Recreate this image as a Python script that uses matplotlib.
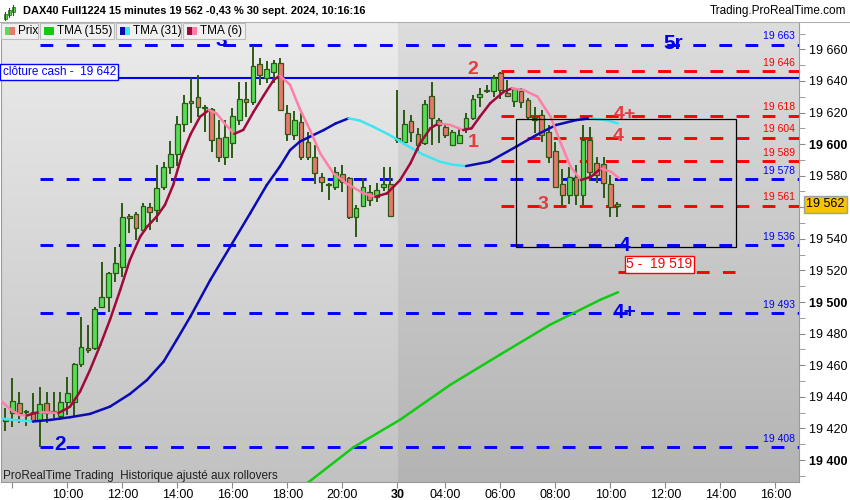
import numpy as np
import matplotlib
matplotlib.use('Agg')
import matplotlib.pyplot as plt
import matplotlib.transforms as mtransforms
from matplotlib.collections import LineCollection
from matplotlib.patches import Rectangle

plt.rcParams['font.family'] = ['Liberation Sans', 'DejaVu Sans']
plt.rcParams['lines.scale_dashes'] = False

# 15 minute bars, index 0 = 08:00 on the 29th, day 30 starts at 56
bar_idx = np.arange(-1, 89)
opens = [19425.0, 19429.6, 19436.4, 19430.8, 19430.3, 19425.4, 19436.4, 19430.0, 19427.9, 19436.6,
         19437.0, 19460.8, 19470.7, 19470.7, 19496.7, 19503.4, 19518.2, 19522.4, 19554.5, 19555.5,
         19545.6, 19560.4, 19558.3, 19572.6, 19585.3, 19593.5, 19612.5, 19626.9, 19629.6, 19623.4,
         19622.0, 19603.7, 19591.6, 19600.5, 19615.3, 19628.3, 19626.9, 19650.7, 19641.6, 19645.9,
         19651.1, 19619.9, 19605.8, 19614.2, 19601.5, 19591.6, 19579.4, 19574.1, 19573.0, 19581.0,
         19578.3, 19554.0, 19560.8, 19569.9, 19566.3, 19572.6, 19574.5, 19602.5, 19601.5, 19614.6,
         19606.2, 19600.5, 19630.4, 19615.2, 19611.0, 19599.4, 19600.5, 19610.0, 19616.3, 19629.6,
         19633.5, 19633.8, 19644.8, 19632.5, 19627.5, 19633.8, 19627.9, 19615.2, 19618.4, 19607.8,
         19595.8, 19574.7, 19567.8, 19579.4, 19567.8, 19602.6, 19587.8, 19587.4, 19574.7, 19561.0]
highs = [19432.8, 19451.8, 19443.3, 19431.7, 19442.3, 19446.5, 19443.3, 19443.3, 19443.3, 19452.4,
         19461.2, 19490.4, 19485.5, 19496.7, 19525.2, 19519.2, 19534.6, 19562.5, 19555.8, 19557.2,
         19562.9, 19562.5, 19586.8, 19588.5, 19602.2, 19617.8, 19631.1, 19641.6, 19643.8, 19624.8,
         19622.7, 19615.3, 19615.3, 19622.7, 19639.1, 19639.1, 19662.1, 19654.3, 19652.8, 19653.2,
         19654.3, 19624.8, 19621.2, 19619.4, 19607.8, 19599.4, 19581.5, 19575.1, 19585.7, 19586.7,
         19578.9, 19561.4, 19578.3, 19574.1, 19575.1, 19585.3, 19585.3, 19634.2, 19621.6, 19618.4,
         19610.0, 19627.9, 19639.5, 19616.3, 19612.1, 19608.9, 19610.0, 19619.4, 19631.0, 19635.3,
         19637.4, 19643.7, 19645.8, 19640.5, 19635.3, 19635.3, 19628.9, 19623.7, 19621.6, 19612.1,
         19601.5, 19584.0, 19585.7, 19587.0, 19612.1, 19611.0, 19592.0, 19592.0, 19580.4, 19563.5]
lows = [19418.7, 19421.2, 19423.3, 19421.5, 19423.3, 19408.0, 19423.3, 19426.4, 19425.4, 19428.5,
        19428.0, 19459.1, 19467.6, 19469.7, 19496.7, 19494.0, 19513.0, 19516.1, 19543.5, 19539.3,
        19545.0, 19545.6, 19550.9, 19571.0, 19581.1, 19586.1, 19607.9, 19613.2, 19617.0, 19607.9,
        19595.2, 19588.9, 19586.8, 19591.0, 19612.1, 19617.4, 19624.8, 19637.4, 19638.9, 19638.5,
        19621.0, 19602.2, 19602.6, 19589.9, 19589.9, 19574.7, 19569.9, 19564.6, 19570.9, 19569.9,
        19552.4, 19541.4, 19560.4, 19560.8, 19563.5, 19570.5, 19554.0, 19600.5, 19599.4, 19601.5,
        19595.2, 19599.4, 19599.4, 19600.5, 19603.6, 19598.8, 19600.0, 19606.8, 19615.2, 19623.7,
        19632.1, 19630.0, 19628.3, 19630.0, 19623.7, 19622.6, 19615.2, 19607.2, 19601.5, 19587.8,
        19572.0, 19561.4, 19562.0, 19561.4, 19561.4, 19576.8, 19575.1, 19566.0, 19554.0, 19553.6]
closes = [19426.0, 19437.6, 19429.6, 19430.3, 19425.4, 19435.5, 19429.6, 19431.0, 19436.6, 19442.2,
          19460.8, 19471.4, 19469.7, 19495.4, 19503.4, 19518.2, 19524.5, 19554.1, 19553.5, 19546.7,
          19561.0, 19557.2, 19572.4, 19585.3, 19593.5, 19612.5, 19626.2, 19626.3, 19623.3, 19622.8,
          19602.6, 19591.6, 19604.3, 19617.8, 19628.3, 19626.9, 19649.4, 19643.7, 19647.3, 19651.1,
          19621.6, 19606.2, 19615.3, 19592.0, 19591.6, 19581.5, 19576.2, 19574.0, 19582.5, 19576.2,
          19553.6, 19559.3, 19573.0, 19564.6, 19570.9, 19574.7, 19554.5, 19603.6, 19612.5, 19607.8,
          19599.4, 19625.1, 19616.3, 19612.1, 19605.7, 19607.8, 19605.7, 19616.3, 19628.3, 19631.7,
          19633.8, 19641.6, 19634.2, 19630.4, 19634.6, 19626.8, 19617.3, 19616.3, 19605.7, 19592.0,
          19573.0, 19567.8, 19579.4, 19567.8, 19602.6, 19582.5, 19580.4, 19575.4, 19560.2, 19562.0]

# moving averages (bar index, value)
tma6_t = [-1.8, -0.3, 1.0, 2.1, 3.1, 4.0, 5.5, 6.7, 7.4, 8.4, 9.85, 11.3, 12.8, 14.2, 15.7, 17.1,
          18.6, 19.6, 21.0, 22.2, 23.4, 24.6, 25.9, 27.3, 28.6, 29.7, 31.2, 32.3, 33.6, 35.1, 36.6,
          38.0, 38.9, 40.4, 41.8, 43.3, 44.8, 46.7, 48.6, 51.1, 52.8, 54.5, 56.4, 57.9, 59.3, 60.8,
          62.0, 63.7, 65.6, 66.8, 68.0, 69.5, 71.5, 72.7, 74.4, 76.4, 78.3, 79.8, 81.2, 82.7, 84.2,
          85.6, 87.1, 88.3]
tma6_v = [19438.1, 19432.2, 19428.6, 19428.1, 19429.6, 19430.3, 19430.0, 19429.8, 19431.3, 19433.8,
          19443.3, 19457.0, 19472.8, 19488.7, 19507.7, 19526.6, 19541.4, 19547.7, 19554.1, 19561.5,
          19574.1, 19592.0, 19606.0, 19617.3, 19621.6, 19619.4, 19611.5, 19606.5, 19609.0, 19620.5,
          19631.0, 19640.5, 19643.5, 19637.5, 19622.5, 19608.9, 19594.1, 19581.5, 19575.1, 19568.8,
          19566.7, 19568.8, 19577.2, 19587.8, 19600.5, 19610.0, 19613.1, 19612.1, 19608.9, 19610.0,
          19617.3, 19625.8, 19633.2, 19635.3, 19634.2, 19630.0, 19617.3, 19600.5, 19585.7, 19577.2,
          19579.4, 19584.6, 19582.5, 19578.3]
tma31_t = [-1.8, 0.0, 3.0, 5.5, 8.4, 11.3, 14.2, 17.1, 19.6, 22.0, 23.9, 25.9, 28.8, 31.7, 34.6,
           37.0, 38.9, 40.4, 41.8, 43.3, 45.3, 47.0, 48.9, 50.5, 52.5, 54.9, 57.3, 59.7, 62.2, 64.0,
           66.0, 69.4, 73.3, 76.2, 79.1, 82.0, 84.0, 86.4, 88.1]
tma31_v = [19426.5, 19425.4, 19424.4, 19425.4, 19427.1, 19429.2, 19433.8, 19441.8, 19450.7, 19462.3,
           19476.0, 19490.8, 19514.0, 19535.1, 19556.2, 19574.0, 19585.7, 19596.2, 19601.5, 19604.7,
           19608.9, 19613.0, 19616.3, 19615.0, 19611.0, 19605.7, 19599.4, 19593.5, 19588.9, 19587.0,
           19586.1, 19588.9, 19598.4, 19605.7, 19612.1, 19615.2, 19616.3, 19615.2, 19613.1]
tma155_t = [42.5, 49.6, 56.4, 63.7, 70.9, 78.2, 85.5, 88.1]
tma155_v = [19384.0, 19408.0, 19425.5, 19447.6, 19466.6, 19485.6, 19501.4, 19506.2]

blue_levels = [19663, 19578, 19536, 19493, 19408]
red_levels = [19646, 19618, 19604, 19589, 19561]
cash_close = 19642
target5 = 19519
last_price = 19562

yticks = list(range(19400, 19661, 20))
xtick_pos = [0, 8, 16, 24, 32, 40, 48, 56, 63, 71, 79, 87, 95, 103, 111]
xtick_lab = ['', '10:00', '12:00', '14:00', '16:00', '18:00', '20:00', '30',
             '04:00', '06:00', '08:00', '10:00', '12:00', '14:00', '16:00']


def fmt(v):
    return '%d %03d' % (v // 1000, v % 1000)


def slope_line(ax, t, v, up, down, lw):
    pts = np.column_stack([t, v])
    segs = np.stack([pts[:-1], pts[1:]], axis=1)
    cols = [up if b >= a else down for a, b in zip(v[:-1], v[1:])]
    ax.add_collection(LineCollection(segs, colors=cols, linewidths=lw,
                                     capstyle='round', joinstyle='round', zorder=4))


fig = plt.figure(figsize=(8.5, 5), dpi=100, facecolor='white')
ax = fig.add_axes([1 / 850, 18 / 500, 798 / 850, 460 / 500])
xmin, xmax = -1.644, 114.43
ymin, ymax = 19386.1, 19677.3
xsplit = 56.15

# background, lighter for the previous day
g = np.linspace(0, 1, 200)[:, None, None]
left_bg = 0.925 + (0.76 - 0.925) * g * np.ones((1, 1, 3))
right_bg = 0.865 + (0.705 - 0.865) * g * np.ones((1, 1, 3))
ax.imshow(left_bg, extent=(xmin, xsplit, ymin, ymax), aspect='auto', zorder=0)
ax.imshow(right_bg, extent=(xsplit, xmax, ymin, ymax), aspect='auto', zorder=0)

# level lines
blend = mtransforms.blended_transform_factory(ax.transAxes, ax.transData)
dash = (9.2, 9.6)
for lv in blue_levels:
    ax.plot([4.0, xmax], [lv, lv], color='#0000ff', lw=2.1, dashes=dash, zorder=2)
    ax.annotate(fmt(lv), xy=(0.995, lv), xycoords=blend, xytext=(0, 6), textcoords='offset points',
                ha='right', va='center', color='#0000ff', fontsize=7.5, zorder=6)
for lv in red_levels:
    ax.plot([71.1, xmax], [lv, lv], color='#ff0000', lw=2.1, dashes=dash, zorder=2)
    ax.annotate(fmt(lv), xy=(0.995, lv), xycoords=blend, xytext=(0, 6), textcoords='offset points',
                ha='right', va='center', color='#ff0000', fontsize=7.5, zorder=6)
ax.plot([88.1, 105.1], [target5, target5], color='#ff0000', lw=2.1, dashes=dash, zorder=2)
ax.axhline(cash_close, color='#0000ff', lw=1.5, zorder=2)

# candles
edge = '#2b5a14'
ax.vlines(bar_idx, lows, highs, color=edge, lw=1.4, zorder=3)
o = np.array(opens)
c = np.array(closes)
body_lo = np.minimum(o, c)
body_h = np.maximum(np.abs(c - o), 0.8)
body_col = ['#55dd55' if cc >= oo else '#e8786c' for oo, cc in zip(o, c)]
ax.bar(bar_idx, body_h, bottom=body_lo, width=0.68, color=body_col, edgecolor=edge, lw=0.9, zorder=3)

# moving averages
slope_line(ax, tma155_t, tma155_v, '#10cc10', '#10cc10', 1.8)
slope_line(ax, tma31_t, tma31_v, '#0a0ab8', '#3ee6f2', 1.8)
slope_line(ax, tma6_t, tma6_v, '#a00a3a', '#ff7fa6', 1.8)

# box around the recent range
ax.add_patch(Rectangle((73.2, 19535.0), 32.0, 80.6, fill=False, ec='black', lw=0.9, zorder=5))

# wave labels
red_txt = '#e8393c'
for tx, vy, s in [(66.94, 19647.2, '2'), (67.08, 19601.0, '1'), (77.12, 19561.5, '3'),
                  (89.12, 19618.7, '4+'), (88.1, 19604.8, '4')]:
    ax.text(tx, vy, s, color=red_txt, fontsize=14, fontweight='bold', ha='center', va='center', zorder=6)
for tx, vy, s in [(96.1, 19663.4, '5r'), (88.97, 19536.1, '4'), (89.05, 19493.4, '4+'),
                  (6.94, 19409.6, '2')]:
    ax.text(tx, vy, s, color='#0000ee', fontsize=15, fontweight='bold', ha='center', va='center', zorder=6)
# this one sits under the indicator buttons, only its lower part shows
w3 = ax.text(30.36, 19665.6, '3', color='#0000ee', fontsize=15, fontweight='bold',
             ha='center', va='center', zorder=6)
w3.set_clip_box(mtransforms.TransformedBbox(mtransforms.Bbox([[xmin, ymin], [xmax, 19666.9]]), ax.transData))

ax.text(0.002, cash_close, u'cl\u00f4ture cash -  ' + fmt(cash_close), transform=blend, color='#0000ff',
        fontsize=8.5, ha='left', va='bottom', zorder=7,
        bbox=dict(boxstyle='square,pad=0.18', fc='white', ec='#0000ff', lw=1))
ax.text(94.1, target5 + 0.5, '5 -  ' + fmt(target5), color='#ff0000', fontsize=10, ha='center',
        va='bottom', zorder=7, bbox=dict(boxstyle='square,pad=0.12', fc='white', ec='#ff0000', lw=1))
ax.text(1.0 + 7 / 798, last_price, fmt(last_price), transform=blend, fontsize=9, ha='left', va='center',
        zorder=8, clip_on=False, bbox=dict(boxstyle='square,pad=0.2', fc='#f7c400', ec='#a0a0a0', lw=1))

ax.set_xlim(xmin, xmax)
ax.set_ylim(ymin, ymax)

# axes
ax.yaxis.tick_right()
ax.set_yticks(yticks)
ax.set_yticklabels(['' if v == 19560 else fmt(v) for v in yticks])
ax.set_yticks(list(range(19390, 19671, 10)), minor=True)
for lab, v in zip(ax.get_yticklabels(), yticks):
    if v % 100 == 0:
        lab.set_fontweight('bold')
ax.tick_params(axis='y', which='both', direction='out', length=4, color='#8a8a8a', labelsize=9, pad=3)
ax.set_xticks(xtick_pos)
ax.set_xticklabels(xtick_lab)
for lab in ax.get_xticklabels():
    if lab.get_text() == '30':
        lab.set_fontweight('bold')
ax.tick_params(axis='x', direction='out', length=4, color='#8a8a8a', labelsize=9, pad=1)
for s in ['left', 'right', 'bottom']:
    ax.spines[s].set_color('#9a9a9a')
ax.spines['top'].set_visible(False)

# window chrome: title bar and indicator buttons
ov = fig.add_axes([0, 0, 1, 1], zorder=10)
ov.set_xlim(0, 850)
ov.set_ylim(500, 0)
ov.axis('off')
ov.patch.set_alpha(0)
ov.add_patch(Rectangle((0, 0), 850, 21.5, fc='white', ec='none'))
ov.plot([0, 850], [21.5, 21.5], color='#b0b0b0', lw=0.8)
for xx, yb, yt in [(5.5, 33, 27), (9.5, 30, 23), (13.5, 28, 20)]:
    ov.plot([xx, xx], [yb - 13, yt - 15], color='#2b5a14', lw=0.8)
    ov.add_patch(Rectangle((xx - 1.5, yt - 13), 3, 5, fc='#55dd55', ec='#2b5a14', lw=0.5))
ov.text(23, 11, 'DAX40 Full1224 15 minutes 19 562 -0,43 % 30 sept. 2024, 10:16:16',
        fontsize=7.9, fontweight='bold', va='center', ha='left')
ov.text(846, 11, 'Trading.ProRealTime.com', fontsize=8.5, va='center', ha='right')

buttons = [(1, 38, 'Prix', '#55dd55', '#e8786c'),
           (40, 114, 'TMA (155)', '#10cc10', '#10cc10'),
           (116, 181, 'TMA (31)', '#0a0ab8', '#3ee6f2'),
           (183, 245, 'TMA (6)', '#a00a3a', '#ff7fa6')]
for x0, x1, name, c1, c2 in buttons:
    ov.add_patch(Rectangle((x0, 22.5), x1 - x0, 16, fc='#f0f0f0', ec='#bcbcbc', lw=0.8))
    ov.add_patch(Rectangle((x0 + 4, 26.5), 5, 8, fc=c1, ec='none'))
    ov.add_patch(Rectangle((x0 + 9, 26.5), 5, 8, fc=c2, ec='none'))
    ov.text(x0 + 17, 31, name, fontsize=8.5, va='center', ha='left')

ov.text(3, 476, 'ProRealTime Trading  Historique ajust\u00e9 aux rollovers', fontsize=8.5,
        color='#202020', va='center', ha='left')

fig.savefig('out.png', dpi=100, facecolor='white')
